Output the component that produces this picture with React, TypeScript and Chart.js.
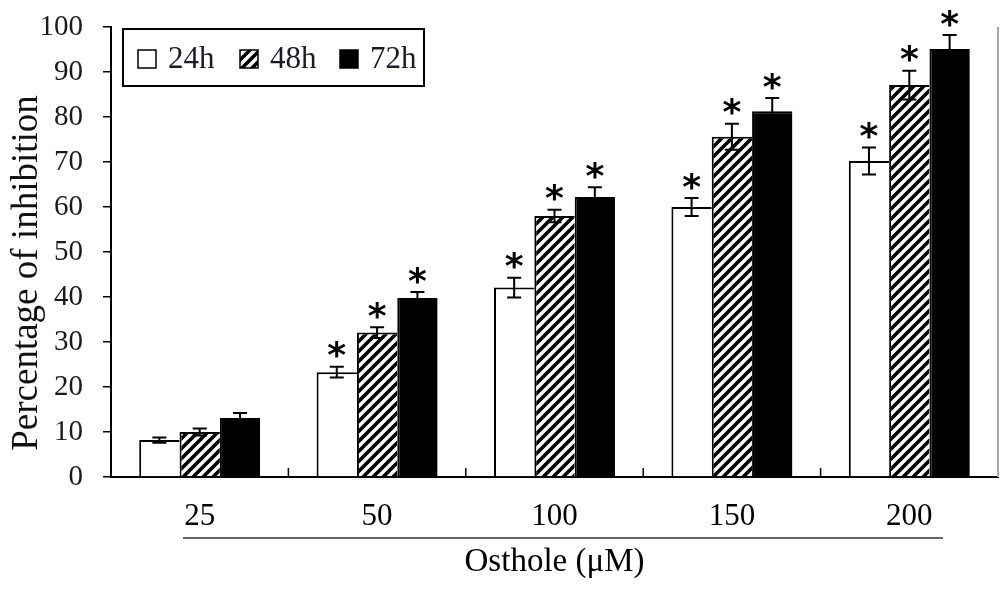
import React, { useEffect, useRef } from 'react';
import { Chart, registerables } from 'chart.js';

Chart.register(...registerables);

// ---- data ----
const categories = ['25', '50', '100', '150', '200'];
const seriesLabels = ['24h', '48h', '72h'];
const values24 = [8.2, 23.3, 42.1, 60.0, 70.2];
const values48 = [10.0, 32.1, 58.0, 75.6, 87.1];
const values72 = [13.1, 39.8, 62.2, 81.3, 95.1];
const errors24 = [0.6, 1.2, 2.2, 2.0, 3.0];
const errors48 = [0.8, 1.2, 1.4, 2.9, 3.2];
const errors72 = [1.1, 1.3, 2.2, 2.9, 3.1];
const signif24 = [false, true, true, true, true];
const signif48 = [false, true, true, true, true];
const signif72 = [false, true, true, true, true];
const yMin = 0;
const yMax = 100;
const yStep = 10;
const xAxisTitle = 'Osthole (μM)';
const yAxisTitle = 'Percentage of inhibition';
const starMark = '*';

const SERIF = "'Liberation Serif', 'Times New Roman', serif";

function makeHatch(): CanvasPattern | string {
  const c = document.createElement('canvas');
  c.width = 10;
  c.height = 10;
  const g = c.getContext('2d');
  if (!g) return '#888';
  g.fillStyle = '#fff';
  g.fillRect(0, 0, 10, 10);
  g.strokeStyle = '#000';
  g.lineWidth = 3.6;
  g.lineCap = 'square';
  g.beginPath();
  g.moveTo(-5, 5); g.lineTo(5, -5);
  g.moveTo(0, 10); g.lineTo(10, 0);
  g.moveTo(5, 15); g.lineTo(15, 5);
  g.stroke();
  const p = g.createPattern(c, 'repeat');
  return p || '#888';
}

const decorPlugin = {
  id: 'decor',
  afterDatasetsDraw(chart: any) {
    const ctx: CanvasRenderingContext2D = chart.ctx;
    const ys = chart.scales.y;
    const xs = chart.scales.x;
    const area = chart.chartArea;
    ctx.save();
    // error bars + significance stars
    chart.data.datasets.forEach((ds: any, di: number) => {
      const meta = chart.getDatasetMeta(di);
      meta.data.forEach((bar: any, i: number) => {
        const v = ds.data[i];
        const e = ds.errors[i];
        const bx = bar.x;
        const yt = ys.getPixelForValue(v + e);
        const yb = ys.getPixelForValue(v - e);
        ctx.strokeStyle = '#000';
        ctx.lineWidth = 2;
        ctx.beginPath();
        ctx.moveTo(bx, yt); ctx.lineTo(bx, yb);
        ctx.moveTo(bx - 7, yt); ctx.lineTo(bx + 7, yt);
        ctx.moveTo(bx - 7, yb); ctx.lineTo(bx + 7, yb);
        ctx.stroke();
        if (ds.signif[i]) {
          ctx.font = "bold 36px 'DejaVu Sans'";
          ctx.fillStyle = '#000';
          ctx.textAlign = 'center';
          ctx.textBaseline = 'alphabetic';
          const m = ctx.measureText(starMark);
          const cy = yt - 17;
          const base = cy - (m.actualBoundingBoxDescent - m.actualBoundingBoxAscent) / 2;
          ctx.fillText(starMark, bx, base);
        }
      });
    });
    // inner tick marks at category boundaries
    ctx.strokeStyle = '#000';
    ctx.lineWidth = 1.5;
    ctx.beginPath();
    for (let i = 0; i <= categories.length; i++) {
      const xb = xs.getPixelForValue(i - 0.5);
      ctx.moveTo(xb, area.bottom);
      ctx.lineTo(xb, area.bottom - 9);
    }
    ctx.stroke();
    // right frame line
    ctx.strokeStyle = '#a8a8a8';
    ctx.lineWidth = 2;
    ctx.beginPath();
    ctx.moveTo(area.right, area.top);
    ctx.lineTo(area.right, area.bottom);
    ctx.stroke();
    ctx.restore();
  },
  afterDraw(chart: any) {
    const ctx: CanvasRenderingContext2D = chart.ctx;
    const area = chart.chartArea;
    ctx.save();
    // line between tick labels and title
    ctx.strokeStyle = '#333';
    ctx.lineWidth = 1.5;
    ctx.beginPath();
    ctx.moveTo(183, 538);
    ctx.lineTo(943, 538);
    ctx.stroke();
    // y title
    ctx.font = `37px ${SERIF}`;
    ctx.fillStyle = '#111';
    ctx.textAlign = 'center';
    ctx.textBaseline = 'middle';
    ctx.translate(27, 273);
    ctx.rotate(-Math.PI / 2);
    ctx.fillText(yAxisTitle, 0, 0);
    ctx.setTransform(1, 0, 0, 1, 0, 0);
    ctx.restore();

    // legend
    ctx.save();
    const lx = area.left + 12;
    const ly = area.top + 2;
    ctx.strokeStyle = '#000';
    ctx.lineWidth = 2;
    ctx.strokeRect(lx, ly, 301, 57);
    const itemX = [lx + 15, lx + 117, lx + 217];
    ctx.font = `31px ${SERIF}`;
    ctx.textAlign = 'left';
    ctx.textBaseline = 'alphabetic';
    chart.data.datasets.forEach((ds: any, di: number) => {
      const sx = itemX[di];
      const sy = ly + 21;
      ctx.fillStyle = ds.backgroundColor;
      ctx.fillRect(sx, sy, 18, 18);
      ctx.lineWidth = 1.5;
      ctx.strokeStyle = '#000';
      ctx.strokeRect(sx, sy, 18, 18);
      ctx.fillStyle = '#1a1a2a';
      ctx.fillText(ds.label, sx + 30, ly + 39);
    });
    ctx.restore();
  },
};

export default function App() {
  const ref = useRef<HTMLCanvasElement>(null);
  useEffect(() => {
    if (!ref.current) return;
    const hatch = makeHatch();
    const edge = { top: 2, left: 2, right: 0, bottom: 0 };
    const chart = new Chart(ref.current, {
      type: 'bar',
      data: {
        labels: categories,
        datasets: [
          { label: seriesLabels[0], data: values24, errors: errors24, signif: signif24, backgroundColor: '#ffffff', borderColor: '#000', borderWidth: edge } as any,
          { label: seriesLabels[1], data: values48, errors: errors48, signif: signif48, backgroundColor: hatch, borderColor: '#000', borderWidth: edge } as any,
          { label: seriesLabels[2], data: values72, errors: errors72, signif: signif72, backgroundColor: '#000000', borderColor: '#000', borderWidth: edge } as any,
        ],
      },
      options: {
        animation: false,
        responsive: true,
        maintainAspectRatio: false,
        datasets: { bar: { categoryPercentage: 0.682, barPercentage: 1.0 } },
        layout: { padding: { top: 27, right: 6, left: 0, bottom: 0 } },
        plugins: { legend: { display: false }, tooltip: { enabled: false } },
        font: { family: SERIF },
        scales: {
          x: {
            grid: { display: true, drawOnChartArea: false, drawTicks: false, tickLength: 0 },
            border: { display: true, color: '#000', width: 2 },
            ticks: { color: '#000', font: { family: SERIF, size: 31 }, padding: 21 },
            title: { display: true, text: xAxisTitle, color: '#000', font: { family: SERIF, size: 33 }, padding: { top: 0, bottom: 16 } },
            afterFit: (s: any) => { s.height = 121; },
          },
          y: {
            min: yMin,
            max: yMax,
            ticks: { stepSize: yStep, color: '#1a1a1a', font: { family: SERIF, size: 29 }, padding: 20 },
            grid: { display: true, drawOnChartArea: false, drawTicks: true, tickLength: 8, color: '#000', lineWidth: 1.5 },
            border: { display: true, color: '#000', width: 2 },
            afterFit: (s: any) => { s.width = 111; s.paddingTop = 0; s.paddingBottom = 0; },
          },
        },
      } as any,
      plugins: [decorPlugin],
    });
    return () => chart.destroy();
  }, []);
  return (
    <div style={{ position: 'absolute', left: 0, top: 0, width: 1004, height: 598, background: '#fff' }}>
      <canvas ref={ref} />
    </div>
  );
}
